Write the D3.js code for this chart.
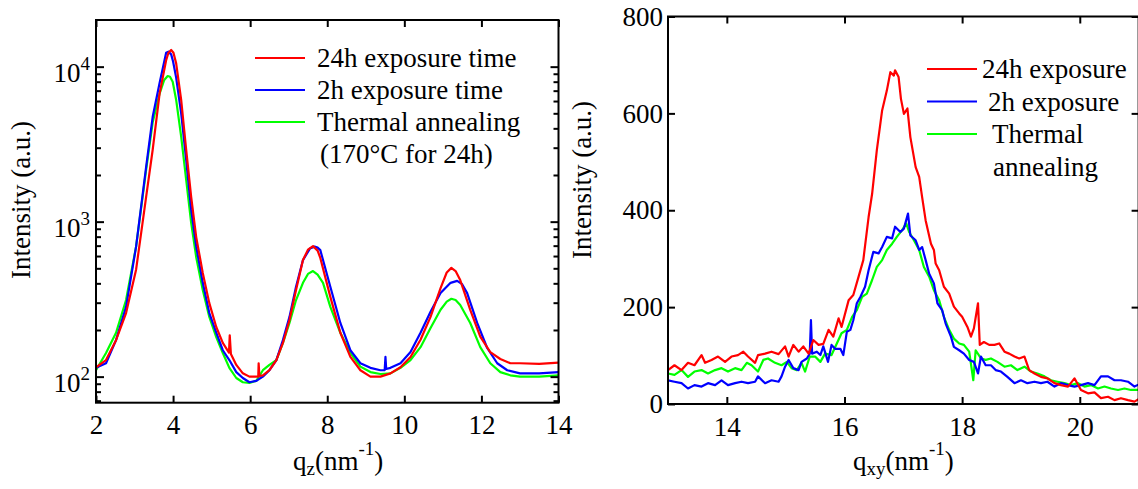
<!DOCTYPE html>
<html>
<head>
<meta charset="utf-8">
<title>XRD profiles</title>
<script src="https://d3js.org/d3.v7.min.js"></script>
</head>
<body style="margin:0">
<svg width="1138" height="489" font-family="Liberation Serif"></svg>
<script>
// ---- data: out-of-plane profile (qz, intensity), log axis
var zRed = [[2.0,115],[2.26,128],[2.52,172],[2.78,257],[3.04,490],[3.3,1440],[3.47,2900],[3.65,6700],[3.82,11000],[3.88,12300],[3.95,12800],[4.01,12300],[4.08,10500],[4.21,6100],[4.34,2900],[4.47,1440],[4.6,795],[4.77,467],[4.94,298],[5.12,209],[5.29,165],[5.45,143],[5.47,185],[5.5,140],[5.64,119],[5.81,105],[5.98,100],[6.16,100],[6.21,100],[6.22,122],[6.24,101],[6.33,102],[6.5,110],[6.68,128],[6.85,165],[7.02,232],[7.19,362],[7.37,565],[7.5,660],[7.63,695],[7.75,650],[7.82,583],[8.08,327],[8.34,192],[8.6,134],[8.86,110],[9.12,100],[9.38,100],[9.64,105],[9.9,115],[10.16,134],[10.42,173],[10.68,243],[10.94,373],[11.1,470],[11.22,503],[11.33,480],[11.45,420],[11.71,270],[11.97,181],[12.23,144],[12.49,130],[12.75,122],[13.0,122],[13.5,121],[14.0,123]];
var zBlue = [[2.0,114],[2.26,122],[2.52,172],[2.78,282],[3.04,690],[3.3,2250],[3.47,4730],[3.65,7850],[3.75,10200],[3.82,12300],[3.88,12500],[3.95,12000],[4.0,10800],[4.08,8500],[4.21,4990],[4.34,2500],[4.47,1190],[4.6,690],[4.77,403],[4.94,257],[5.12,192],[5.29,148],[5.46,128],[5.64,107],[5.81,98],[5.98,92],[6.16,94],[6.33,100],[6.5,110],[6.68,128],[6.85,172],[7.02,243],[7.19,380],[7.37,565],[7.55,670],[7.67,690],[7.75,680],[7.82,655],[8.08,380],[8.34,222],[8.6,148],[8.86,122],[9.12,114],[9.38,110],[9.49,110],[9.51,134],[9.53,112],[9.64,114],[9.9,122],[10.16,144],[10.42,192],[10.68,262],[10.94,346],[11.2,403],[11.37,415],[11.5,395],[11.63,346],[11.89,222],[12.15,153],[12.41,122],[12.67,110],[13.0,105],[13.5,105],[14.0,107]];
var zGreen = [[2.0,110],[2.26,142],[2.52,192],[2.78,312],[3.04,690],[3.3,2150],[3.47,4360],[3.65,6700],[3.77,8200],[3.86,8700],[3.92,8600],[3.99,8000],[4.08,6100],[4.21,3540],[4.34,1860],[4.47,980],[4.6,590],[4.77,362],[4.94,243],[5.12,180],[5.29,142],[5.46,114],[5.64,98],[5.81,92],[5.98,91],[6.16,94],[6.33,110],[6.5,119],[6.68,128],[6.85,165],[7.02,222],[7.19,312],[7.37,403],[7.5,460],[7.63,480],[7.75,455],[7.89,403],[8.08,282],[8.34,192],[8.6,142],[8.86,116],[9.12,107],[9.38,104],[9.64,105],[9.9,114],[10.16,128],[10.42,155],[10.68,206],[10.94,270],[11.1,305],[11.22,318],[11.33,312],[11.45,290],[11.71,222],[11.97,155],[12.23,122],[12.49,107],[12.75,102],[13.0,100],[13.5,100],[14.0,102]];

// ---- data: in-plane profile (qxy, intensity), linear axis
var xyRed = [[13.0,70],[13.11,80],[13.23,70],[13.34,85],[13.45,80],[13.57,101],[13.63,85],[13.74,91],[13.85,98],[13.97,87],[14.08,98],[14.19,101],[14.28,108],[14.36,98],[14.48,85],[14.53,101],[14.65,104],[14.76,108],[14.88,103],[14.99,119],[15.05,98],[15.13,122],[15.22,108],[15.3,119],[15.39,104],[15.47,132],[15.56,122],[15.64,124],[15.73,153],[15.81,139],[15.9,177],[15.95,159],[16.07,214],[16.15,225],[16.24,263],[16.32,297],[16.41,386],[16.47,434],[16.55,524],[16.64,606],[16.72,647],[16.78,685],[16.84,678],[16.86,689],[16.92,675],[16.96,630],[17.01,599],[17.07,610],[17.12,551],[17.21,489],[17.27,469],[17.32,427],[17.38,379],[17.47,331],[17.52,318],[17.55,290],[17.61,276],[17.69,242],[17.78,228],[17.86,201],[17.95,187],[18.0,180],[18.09,159],[18.15,139],[18.2,156],[18.27,208],[18.3,122],[18.37,128],[18.46,122],[18.55,122],[18.63,125],[18.72,108],[18.8,104],[18.89,98],[18.97,94],[19.06,98],[19.14,70],[19.23,63],[19.34,56],[19.45,53],[19.57,43],[19.68,39],[19.8,36],[19.91,53],[20.02,29],[20.14,22],[20.25,24],[20.36,12],[20.48,15],[20.59,8],[20.7,12],[20.82,8],[20.93,5],[21.0,10]];
var xyBlue = [[13.0,49],[13.11,46],[13.23,43],[13.34,32],[13.45,39],[13.57,36],[13.68,43],[13.8,39],[13.91,49],[14.02,39],[14.14,43],[14.25,46],[14.36,43],[14.48,46],[14.53,57],[14.65,43],[14.76,49],[14.88,46],[14.93,57],[14.99,77],[15.05,91],[15.13,74],[15.22,70],[15.27,87],[15.36,94],[15.41,104],[15.43,173],[15.45,104],[15.53,108],[15.59,101],[15.64,119],[15.72,87],[15.78,122],[15.84,114],[15.93,114],[15.98,101],[16.04,149],[16.1,153],[16.15,173],[16.21,208],[16.27,221],[16.35,242],[16.41,276],[16.49,314],[16.58,311],[16.64,324],[16.72,345],[16.81,342],[16.86,366],[16.95,355],[17.01,362],[17.08,393],[17.12,348],[17.21,338],[17.27,318],[17.32,324],[17.38,297],[17.44,269],[17.52,249],[17.58,208],[17.66,194],[17.72,166],[17.81,139],[17.86,118],[17.95,111],[18.03,104],[18.12,91],[18.2,87],[18.27,63],[18.32,98],[18.4,80],[18.49,80],[18.57,70],[18.66,67],[18.77,56],[18.89,43],[19.0,49],[19.11,43],[19.23,46],[19.34,43],[19.45,46],[19.57,36],[19.68,43],[19.8,39],[19.91,36],[20.02,39],[20.14,43],[20.25,39],[20.36,57],[20.48,57],[20.59,49],[20.7,49],[20.82,46],[20.93,36],[21.0,40]];
var xyGreen = [[13.0,63],[13.11,60],[13.23,70],[13.34,56],[13.45,67],[13.57,70],[13.68,63],[13.8,70],[13.91,74],[14.02,67],[14.14,74],[14.25,70],[14.34,85],[14.42,80],[14.53,67],[14.62,91],[14.7,94],[14.82,85],[14.93,80],[15.02,87],[15.1,74],[15.19,70],[15.27,85],[15.33,67],[15.41,98],[15.5,98],[15.59,87],[15.67,104],[15.78,101],[15.87,125],[15.95,146],[16.04,153],[16.13,180],[16.21,194],[16.3,221],[16.38,228],[16.47,256],[16.55,283],[16.64,297],[16.72,318],[16.81,331],[16.89,345],[16.98,359],[17.05,373],[17.1,355],[17.18,338],[17.27,318],[17.35,283],[17.44,263],[17.52,235],[17.61,214],[17.69,180],[17.78,153],[17.86,135],[17.95,125],[18.03,122],[18.12,108],[18.19,49],[18.23,111],[18.32,94],[18.4,91],[18.49,94],[18.6,87],[18.72,77],[18.83,80],[18.94,70],[19.06,77],[19.17,67],[19.28,63],[19.4,57],[19.51,49],[19.62,46],[19.74,43],[19.85,39],[19.97,43],[20.08,36],[20.19,39],[20.31,32],[20.42,36],[20.53,32],[20.65,29],[20.76,32],[20.87,29],[21.0,29]];

// ticks and labels
var qzTicks = [2, 4, 6, 8, 10, 12, 14];
var zMajor = [100, 1000, 10000];
var zMinor = [70, 80, 90, 200, 300, 400, 500, 600, 700, 800, 900, 2000, 3000, 4000, 5000, 6000, 7000, 8000, 9000];
var qxyTicks = [14, 16, 18, 20];
var xyYTicks = [0, 200, 400, 600, 800];
var colors = ["#ff0000", "#0000ff", "#00ff00"];
var legendLeft = [["24h exposure time"], ["2h exposure time"], ["Thermal annealing", "(170°C for 24h)"]];
var legendRight = [["24h exposure"], ["2h exposure"], ["Thermal", "annealing"]];

var svg = d3.select("svg");
var FS = 27;
var FONT = "Liberation Serif";

// frame and ticks helpers
function frame(g, x, y) {
  g.append("rect")
    .attr("x", x.range()[0]).attr("y", y.range()[1])
    .attr("width", x.range()[1] - x.range()[0])
    .attr("height", y.range()[0] - y.range()[1])
    .attr("fill", "none").attr("stroke", "#000").attr("stroke-width", 2);
}
function styleAxis(a) {
  a.attr("font-family", FONT).attr("font-size", FS);
  a.select(".domain").remove();
  a.selectAll(".tick line").attr("stroke-width", 2);
  a.selectAll("text").attr("fill", "#000").attr("font-family", FONT).style("font-family", FONT);
  return a;
}
function txt(g) {
  return g.append("text").attr("font-family", FONT).style("font-family", FONT)
    .attr("font-size", FS).attr("fill", "#000");
}

// ================= left panel =================
var xL = d3.scaleLinear().domain([2, 14]).range([96, 558.5]);
var yL = d3.scaleLog().domain([67.9, 20000]).range([402.7, 20]);
var gL = svg.append("g");

gL.append("clipPath").attr("id", "clipL").append("rect")
  .attr("x", 96).attr("y", 20).attr("width", 462.5).attr("height", 382.7);

var lineL = d3.line().x(function(d) { return xL(d[0]); }).y(function(d) { return yL(d[1]); });
[zGreen, zBlue, zRed].forEach(function(s, i) {
  gL.append("path").datum(s)
    .attr("d", lineL).attr("clip-path", "url(#clipL)")
    .attr("fill", "none").attr("stroke", colors[2 - i])
    .attr("stroke-width", 2.2).attr("stroke-linejoin", "round");
});

styleAxis(gL.append("g").attr("transform", "translate(0,402.7)")
  .call(d3.axisBottom(xL).tickValues(qzTicks).tickSize(-7).tickSizeOuter(0).tickPadding(12)));
styleAxis(gL.append("g").attr("transform", "translate(0,20)")
  .call(d3.axisTop(xL).tickValues(qzTicks).tickSize(-7).tickSizeOuter(0).tickFormat("")));
styleAxis(gL.append("g").attr("transform", "translate(96,0)")
  .call(d3.axisLeft(yL).tickValues(zMajor).tickSize(-8).tickSizeOuter(0).tickFormat("")));
styleAxis(gL.append("g").attr("transform", "translate(96,0)")
  .call(d3.axisLeft(yL).tickValues(zMinor).tickSize(-5).tickSizeOuter(0).tickFormat("")));
styleAxis(gL.append("g").attr("transform", "translate(558.5,0)")
  .call(d3.axisRight(yL).tickValues(zMajor).tickSize(-8).tickSizeOuter(0).tickFormat("")));
styleAxis(gL.append("g").attr("transform", "translate(558.5,0)")
  .call(d3.axisRight(yL).tickValues(zMinor).tickSize(-5).tickSizeOuter(0).tickFormat("")));

zMajor.forEach(function(v) {
  var t = txt(gL).attr("x", 90).attr("y", yL(v) + 15.5).attr("text-anchor", "end");
  t.append("tspan").text("10");
  t.append("tspan").attr("dy", -12).attr("font-size", 19).text(Math.round(Math.log10(v)));
});
frame(gL, xL, yL);

var tL = txt(gL).attr("x", 293).attr("y", 470);
tL.append("tspan").text("q");
tL.append("tspan").attr("dy", 5).attr("font-size", 19).text("z");
tL.append("tspan").attr("dy", -5).text("(nm");
tL.append("tspan").attr("dy", -15).attr("font-size", 19).text("-1");
tL.append("tspan").attr("dy", 15).text(")");

txt(gL).attr("transform", "translate(30,200) rotate(-90)")
  .attr("text-anchor", "middle").text("Intensity (a.u.)");

legendLeft.forEach(function(lab, i) {
  var ly = 58 + i * 32;
  gL.append("line").attr("x1", 255).attr("x2", 305).attr("y1", ly).attr("y2", ly)
    .attr("stroke", colors[i]).attr("stroke-width", 2.2);
  lab.forEach(function(s, j) {
    txt(gL).attr("x", j ? 320 : 317).attr("y", ly + 9 + j * 32).text(s);
  });
});

// ================= right panel =================
var xR = d3.scaleLinear().domain([13, 21]).range([668, 1138.6]);
var yR = d3.scaleLinear().domain([0, 800]).range([404, 16.5]);
var gR = svg.append("g");

gR.append("clipPath").attr("id", "clipR").append("rect")
  .attr("x", 668).attr("y", 16.5).attr("width", 470.6).attr("height", 387.5);

var lineR = d3.line().x(function(d) { return xR(d[0]); }).y(function(d) { return yR(d[1]); });
[xyGreen, xyBlue, xyRed].forEach(function(s, i) {
  gR.append("path").datum(s)
    .attr("d", lineR).attr("clip-path", "url(#clipR)")
    .attr("fill", "none").attr("stroke", colors[2 - i])
    .attr("stroke-width", 2.2).attr("stroke-linejoin", "round");
});

styleAxis(gR.append("g").attr("transform", "translate(0,404)")
  .call(d3.axisBottom(xR).tickValues(qxyTicks).tickSize(-7).tickSizeOuter(0).tickPadding(13)));
styleAxis(gR.append("g").attr("transform", "translate(0,16.5)")
  .call(d3.axisTop(xR).tickValues(qxyTicks).tickSize(-7).tickSizeOuter(0).tickFormat("")));
styleAxis(gR.append("g").attr("transform", "translate(668,0)")
  .call(d3.axisLeft(yR).tickValues(xyYTicks).tickSize(-7).tickSizeOuter(0).tickPadding(5)));
styleAxis(gR.append("g").attr("transform", "translate(1138.6,0)")
  .call(d3.axisRight(yR).tickValues(xyYTicks).tickSize(-7).tickSizeOuter(0).tickFormat("")));
frame(gR, xR, yR);

var tR = txt(gR).attr("x", 853).attr("y", 470);
tR.append("tspan").text("q");
tR.append("tspan").attr("dy", 5).attr("font-size", 19).text("xy");
tR.append("tspan").attr("dy", -5).text("(nm");
tR.append("tspan").attr("dy", -15).attr("font-size", 19).text("-1");
tR.append("tspan").attr("dy", 15).text(")");

txt(gR).attr("transform", "translate(591,180) rotate(-90)")
  .attr("text-anchor", "middle").text("Intensity (a.u.)");

var lxR = [982, 988, 992];
legendRight.forEach(function(lab, i) {
  var ly = 69 + i * 32.5;
  gR.append("line").attr("x1", 927).attr("x2", 977).attr("y1", ly).attr("y2", ly)
    .attr("stroke", colors[i]).attr("stroke-width", 2.2);
  lab.forEach(function(s, j) {
    txt(gR).attr("x", lxR[i] + j).attr("y", ly + 9 + j * 32.5).text(s);
  });
});
</script>
</body>
</html>
